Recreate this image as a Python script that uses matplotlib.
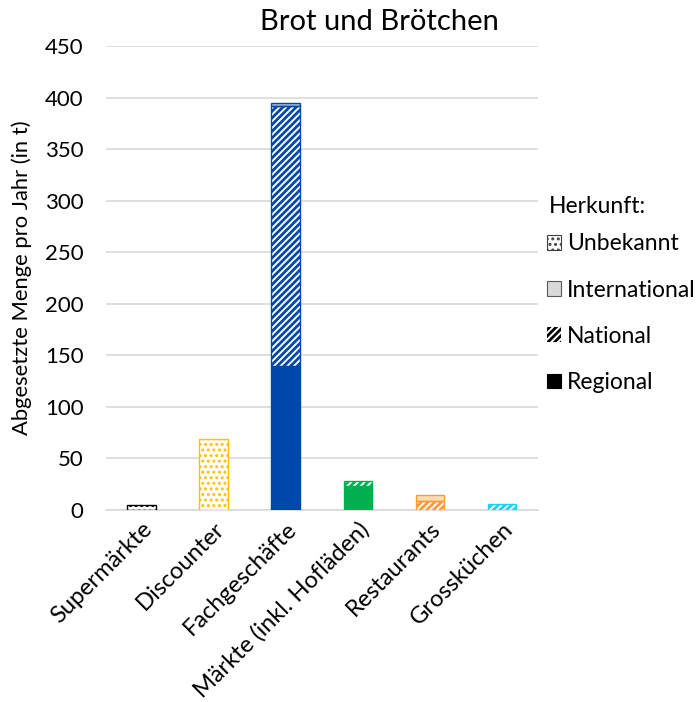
import matplotlib.pyplot as plt
from matplotlib.patches import Patch
import numpy as np

plt.rcParams['font.family'] = ['Lato', 'DejaVu Sans']
plt.rcParams['hatch.linewidth'] = 1.4

categories = ['Supermärkte', 'Discounter', 'Fachgeschäfte', 'Märkte (inkl. Hofläden)', 'Restaurants', 'Grossküchen']
regional = [0, 0, 140, 23, 0, 0]
national = [0, 0, 252, 5, 9, 6]
international = [0, 0, 3, 0, 6, 0]
unbekannt = [5, 69, 0, 0, 0, 0]
colors = ['#000000', '#FFC000', '#0047AB', '#00B050', '#FF9933', '#1FD1F0']


def lighten(c, f=0.65):
    c = np.array(plt.matplotlib.colors.to_rgb(c))
    return tuple(c + (1 - c) * f)


fig = plt.figure(figsize=(6.96, 7.02), dpi=100)
ax = fig.add_axes([0.152, 0.2735, 0.621, 0.661])
x = np.arange(len(categories))
w = 0.4

for i in x:
    col = colors[i]
    b = 0
    if regional[i]:
        ax.bar(i, regional[i], w, bottom=b, color=col, edgecolor=col, linewidth=1, zorder=3)
        b += regional[i]
    if national[i]:
        ax.bar(i, national[i], w, bottom=b, color=col, edgecolor='white', linewidth=0, hatch='/////', zorder=3)
        ax.bar(i, national[i], w, bottom=b, fill=False, edgecolor=col, linewidth=1, zorder=4)
        b += national[i]
    if international[i]:
        ax.bar(i, international[i], w, bottom=b, color=lighten(col), edgecolor=col, linewidth=1, zorder=3)
        b += international[i]
    if unbekannt[i]:
        ax.bar(i, unbekannt[i], w, bottom=b, facecolor='white', edgecolor=col, linewidth=1, hatch='...', zorder=3)
        b += unbekannt[i]

ax.set_xlim(-0.5, len(categories) - 0.5)
ax.set_ylim(0, 450)
ax.set_yticks(np.arange(0, 451, 50))
ax.set_xticks(x)
ax.set_xticklabels(categories, rotation=45, ha='right', rotation_mode='anchor', fontsize=17)
ax.tick_params(axis='y', labelsize=16, length=0, pad=16)
ax.tick_params(axis='x', length=0, pad=6)
ax.grid(axis='y', color='#D9D9D9', linewidth=1.2, zorder=0)
ax.set_axisbelow(True)
for s in ['top', 'right', 'left']:
    ax.spines[s].set_visible(False)
ax.spines['bottom'].set_color('#D9D9D9')
ax.spines['bottom'].set_linewidth(1.2)
ax.set_ylabel('Abgesetzte Menge pro Jahr (in t)', fontsize=15.8, labelpad=9)
fig.text(0.545, 0.968, 'Brot und Brötchen', ha='center', va='center', fontsize=21)

handles = [
    Patch(facecolor='white', edgecolor='#404040', hatch='...', linewidth=0.8),
    Patch(facecolor='#D9D9D9', edgecolor='#595959', linewidth=0.8),
    Patch(facecolor='black', edgecolor='white', hatch='/////', linewidth=0),
    Patch(facecolor='black', edgecolor='black', linewidth=0.8),
]
fig.text(0.788, 0.706, 'Herkunft:', ha='left', va='center', fontsize=16.5)
leg = fig.legend(handles, ['Unbekannt', 'International', 'National', 'Regional'],
                 loc='upper left', bbox_to_anchor=(0.78, 0.674),
                 frameon=False, fontsize=16.5,
                 handlelength=0.6, handleheight=0.6, handletextpad=0.25,
                 labelspacing=1.1, borderpad=0.2, borderaxespad=0)

fig.savefig('out.png', dpi=100)
